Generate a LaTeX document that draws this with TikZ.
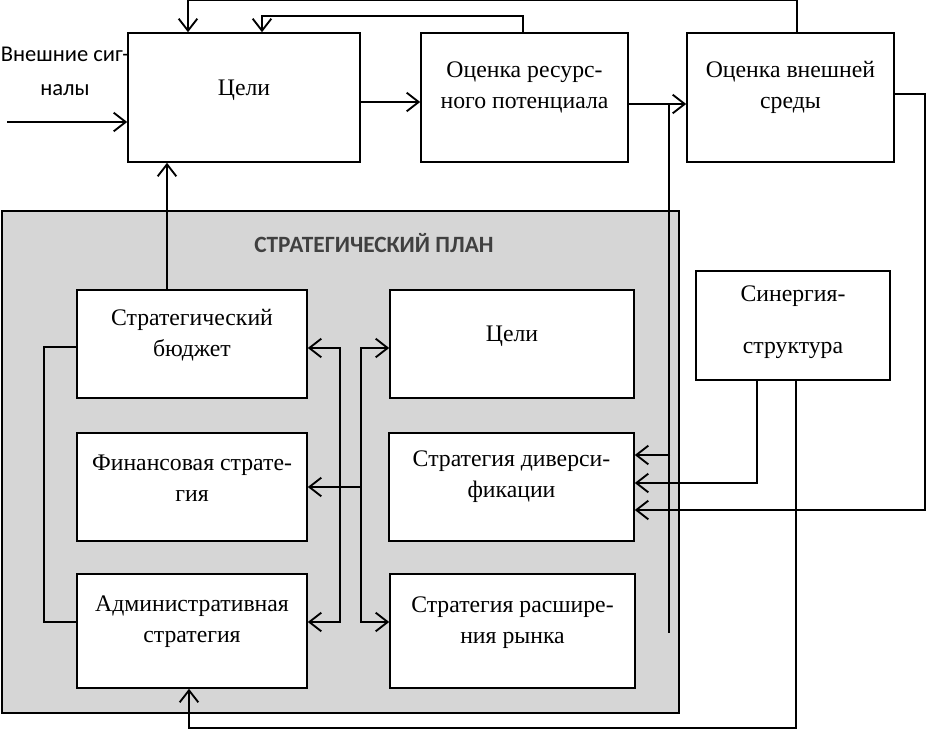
\documentclass[tikz,border=0pt]{standalone}
\usepackage{fontspec}
\setmainfont{Liberation Serif}
\newfontfamily\carl{Carlito}
\usetikzlibrary{arrows.meta,calc}
\definecolor{panelgray}{HTML}{D6D6D6}
\definecolor{titlegray}{HTML}{404040}
\begin{document}
\begin{tikzpicture}[x=0.75pt,y=-0.75pt,
  box/.style={draw, line width=1.2pt, fill=white, inner sep=0pt},
  txt/.style={align=center, font=\fontsize{17.8}{23}\selectfont, inner sep=0pt},
  ln/.style={line width=1.4pt},
  arr/.style={line width=1.4pt, -{Straight Barb[length=9pt,width=14pt]}},
  arrb/.style={line width=1.4pt, {Straight Barb[length=9pt,width=14pt]}-{Straight Barb[length=9pt,width=14pt]}},
  ttl/.style={font=\carl\bfseries\fontsize{17.5}{20}\selectfont, text=titlegray},
  ext/.style={align=center, font=\carl\fontsize{16.9}{25.5}\selectfont, inner sep=0pt}]
\useasboundingbox (0,0) rectangle (926,731);

% panel
\draw[line width=1.2pt, fill=panelgray] (2,211) rectangle (679,713);
\node[ttl] (title) at (374,243) {СТРАТЕГИЧЕСКИЙ ПЛАН};

% top boxes
\node[box, minimum width=174pt, minimum height=96.75pt] (goal) at (244,97.5) {};
\node[box, minimum width=155.25pt, minimum height=96.75pt] (res) at (524.5,97.5) {};
\node[box, minimum width=155.25pt, minimum height=96.75pt] (env) at (790.5,97.5) {};
\node[box, minimum width=145.5pt, minimum height=81.75pt] (syn) at (793,325.5) {};

% inner boxes
\node[box, minimum width=172.5pt, minimum height=81pt] (bud) at (192,344) {};
\node[box, minimum width=172.5pt, minimum height=81pt] (fin) at (192,487) {};
\node[box, minimum width=172.5pt, minimum height=85.5pt] (adm) at (192,631) {};
\node[box, minimum width=183pt, minimum height=81pt] (igoal) at (512,344) {};
\node[box, minimum width=183.75pt, minimum height=81pt] (div) at (511.5,487) {};
\node[box, minimum width=183.75pt, minimum height=85.5pt] (mkt) at (512.5,631) {};

% texts
\node[txt] (goalt) at ($(goal.center)+(0,-7)$) {Цели};
\node[txt] (rest) at ($(res.center)+(0,-10)$) {Оценка ресурс-\\ного потенциала};
\node[txt] (envt) at ($(env.center)+(0,-10)$) {Оценка внешней\\среды};
\node[txt] (synt) at ($(syn.center)+(0,-3.5)$) {Синергия-\\[16pt]структура};
\node[txt] (budt) at ($(bud.center)+(0,-9)$) {Стратегический\\бюджет};
\node[txt] (fint) at ($(fin.center)+(0,-9)$) {Финансовая страте-\\гия};
\node[txt] (admt) at ($(adm.center)+(0,-9)$) {Административная\\стратегия};
\node[txt] (igoalt) at ($(igoal.center)+(0,-8)$) {Цели};
\node[txt] (divt) at ($(div.center)+(0,-10)$) {Стратегия диверси-\\фикации};
\node[txt] (mktt) at ($(mkt.center)+(0,-8.5)$) {Стратегия расшире-\\ния рынка};
\node[ext] (sig) at (65,71) {Внешние сиг-\\налы};

% top connectors
\coordinate (in) at (7,122);
\draw[arr] (in) -- (in -| goal.west);
\draw[arr] ($(goal.east)+(0,4.5)$) -- ($(res.west)+(0,4.5)$);
\draw[arr] ($(res.east)+(0,6.5)$) -- ($(env.west)+(0,6.5)$);
\draw[arr] ($(env.north)+(6.5,0)$) -- ++(0,-32) -| ($(goal.north)+(-56,0)$);
\draw[arr] ($(res.north)+(-1.5,0)$) -- ++(0,-16) -| ($(goal.north)+(18,0)$);

% vertical line from resource arrow
\coordinate (vt) at (669,104);
\coordinate (vb) at (669,633);
\draw[ln] (vt) -- (vb);
\coordinate (d1) at (670,455);
\draw[arr] (d1) -- (d1 -| div.east);

% right loop from environment
\coordinate (rc) at (925,510);
\draw[arr] ($(env.east)+(0,-3.5)$) -| (rc) -- (rc -| div.east);

% synergy
\draw[arr] ($(syn.south)+(-36,0)$) |- ($(div.east)+(0,-4)$);
\coordinate (sb) at (796,728);
\draw[arr] ($(syn.south)+(3,0)$) -- (sb) -| ($(adm.south)+(-3,0)$);

% budget up to goals
\coordinate (bu) at ($(bud.north)+(-25,0)$);
\draw[arr] (bu) -- (bu |- goal.south);

% left loop
\coordinate (l1) at (44,347);
\coordinate (l2) at (44,622);
\draw[ln] ($(bud.west)+(0,3)$) -- (l1) -- (l2) -- ($(adm.west)+(0,-9)$);

% brackets
\coordinate (b1) at (340,348);
\coordinate (b2) at (340,622);
\draw[arrb] (b1 -| bud.east) -- (b1) -- (b2) -- (b2 -| adm.east);
\coordinate (c1) at (361,348);
\coordinate (c2) at (361,622);
\draw[arrb] (c1 -| igoal.west) -- (c1) -- (c2) -- (c2 -| mkt.west);
\coordinate (c3) at (361,487);
\draw[arr] (c3) -- (c3 -| fin.east);
\end{tikzpicture}
\end{document}
